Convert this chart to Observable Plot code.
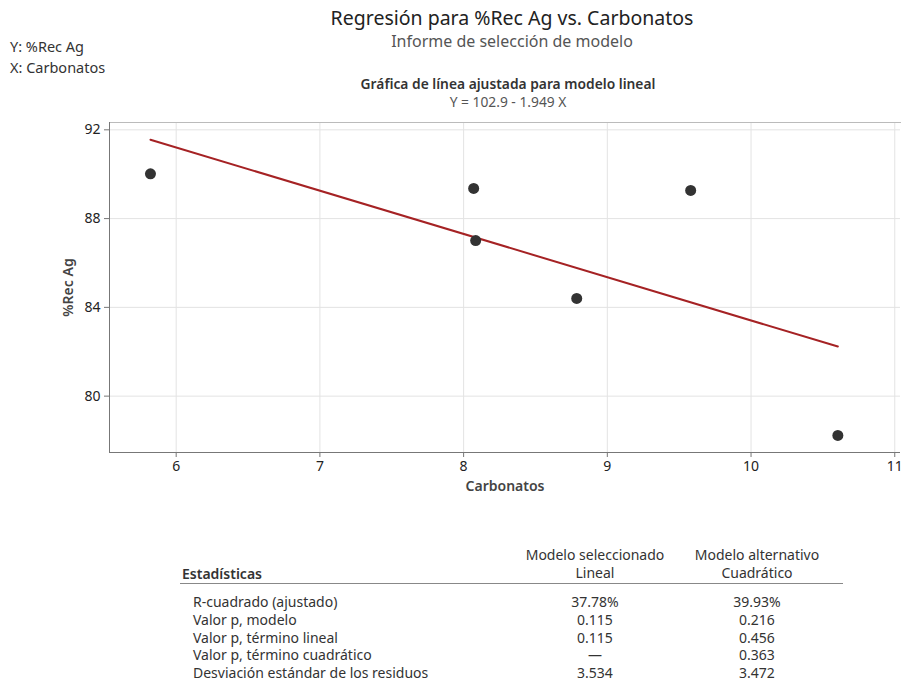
<!DOCTYPE html>
<html><head><meta charset="utf-8">
<script src="https://cdn.jsdelivr.net/npm/d3@7"></script>
<script src="https://cdn.jsdelivr.net/npm/@observablehq/plot@0.6"></script>
<style>
body{margin:0;background:#fff;font-family:"Noto Sans",sans-serif;color:#333;}
#wrap{position:relative;width:901px;height:684px;overflow:hidden;}
.abs{position:absolute;white-space:nowrap;z-index:2;}
#chart{position:absolute;left:0;top:100px;z-index:1;}
</style></head>
<body><div id="wrap">
<div class="abs" style="left:0;width:1024px;top:6px;line-height:24px;text-align:center;font-size:19.5px;color:#222;">Regresión para %Rec Ag vs. Carbonatos</div>
<div class="abs" style="left:0;width:1024px;top:31px;line-height:20px;text-align:center;font-size:16px;color:#555;">Informe de selección de modelo</div>
<div class="abs" style="left:10px;top:36px;font-size:14.5px;color:#333;line-height:21px;">Y: %Rec Ag<br>X: Carbonatos</div>
<div class="abs" style="left:0;width:1016px;top:76px;line-height:16px;text-align:center;font-size:13.8px;font-weight:600;color:#333;">Gráfica de línea ajustada para modelo lineal</div>
<div class="abs" style="left:0;width:1016px;top:94px;line-height:15px;text-align:center;font-size:13.8px;color:#555;">Y = 102.9 - 1.949 X</div>
<div id="chart"></div>
<div id="tbl" class="abs" style="left:0;top:540px;"></div>
</div>
<script>
const carbonatos = [5.821, 8.07, 8.084, 8.787, 9.58, 10.604];
const recAg = [90.02, 89.36, 87.01, 84.40, 89.27, 78.23];
const fitIntercept = 102.9;
const fitSlope = -1.949;
const xTicks = [6, 7, 8, 9, 10, 11];
const yTicks = [80, 84, 88, 92];

const statNames = ["R-cuadrado (ajustado)", "Valor p, modelo", "Valor p, término lineal", "Valor p, término cuadrático", "Desviación estándar de los residuos"];
const linealVals = ["37.78%", "0.115", "0.115", "—", "3.534"];
const cuadVals = ["39.93%", "0.216", "0.456", "0.363", "3.472"];

const pts = carbonatos.map((x, i) => ({x, y: recAg[i]}));
const xmin = d3.min(carbonatos), xmax = d3.max(carbonatos);
const fit = [xmin, xmax].map(x => ({x, y: fitIntercept + fitSlope * x}));

const plot = Plot.plot({
  width: 901, height: 410,
  marginTop: 22, marginBottom: 58, marginLeft: 109, marginRight: 1,
  style: {fontFamily: "Noto Sans", fontSize: "14px", color: "#222", background: "transparent", overflow: "visible"},
  x: {domain: [5.536, 11.04]},
  y: {domain: [77.46, 92.33]},
  marks: [
    Plot.gridX(xTicks, {stroke: "#e3e3e3", strokeOpacity: 1}),
    Plot.gridY(yTicks, {stroke: "#e3e3e3", strokeOpacity: 1}),
    Plot.frame({stroke: "#bbb", anchor: "top"}),
    Plot.axisX({ticks: xTicks, tickFormat: d3.format("d"), tickSize: 5, tickPadding: 4, stroke: "#777", fill: "#222", label: "Carbonatos", labelAnchor: "center", labelOffset: 38, labelArrow: "none"}),
    Plot.axisY({ticks: yTicks, tickFormat: d3.format("d"), tickSize: 5, tickPadding: 4, stroke: "#777", fill: "#222", label: "%Rec Ag", labelAnchor: "center", labelOffset: 46, labelArrow: "none"}),
    Plot.ruleY([77.46], {stroke: "#777"}),
    Plot.ruleX([5.536], {stroke: "#777"}),
    Plot.line(fit, {x: "x", y: "y", stroke: "#a52224", strokeWidth: 2}),
    Plot.dot(pts, {x: "x", y: "y", r: 5.5, fill: "#333", stroke: "none"})
  ]
});
document.getElementById("chart").appendChild(plot);
d3.select(plot).selectAll("[aria-label='x-axis label'] text, [aria-label='y-axis label'] text")
  .style("font-weight", "600").style("fill", "#444");

// table
const tbl = document.getElementById("tbl");
let html = `<div class="abs" style="left:182px;top:24px;font-size:14px;font-weight:600;color:#333;">Estadísticas</div>`;
html += `<div class="abs" style="left:505px;width:180px;top:6px;text-align:center;font-size:14px;line-height:18px;color:#333;">Modelo seleccionado<br>Lineal</div>`;
html += `<div class="abs" style="left:667px;width:180px;top:6px;text-align:center;font-size:14px;line-height:18px;color:#333;">Modelo alternativo<br>Cuadrático</div>`;
html += `<div class="abs" style="left:180px;width:663px;top:43px;height:1px;background:#888;"></div>`;
statNames.forEach((n, i) => {
  const top = 52 + i * 17.8;
  html += `<div class="abs" style="left:193px;top:${top}px;font-size:14px;color:#333;">${n}</div>`;
  html += `<div class="abs" style="left:505px;width:180px;top:${top}px;text-align:center;font-size:14px;color:#333;">${linealVals[i]}</div>`;
  html += `<div class="abs" style="left:667px;width:180px;top:${top}px;text-align:center;font-size:14px;color:#333;">${cuadVals[i]}</div>`;
});
tbl.innerHTML = html;
</script>
</body></html>
